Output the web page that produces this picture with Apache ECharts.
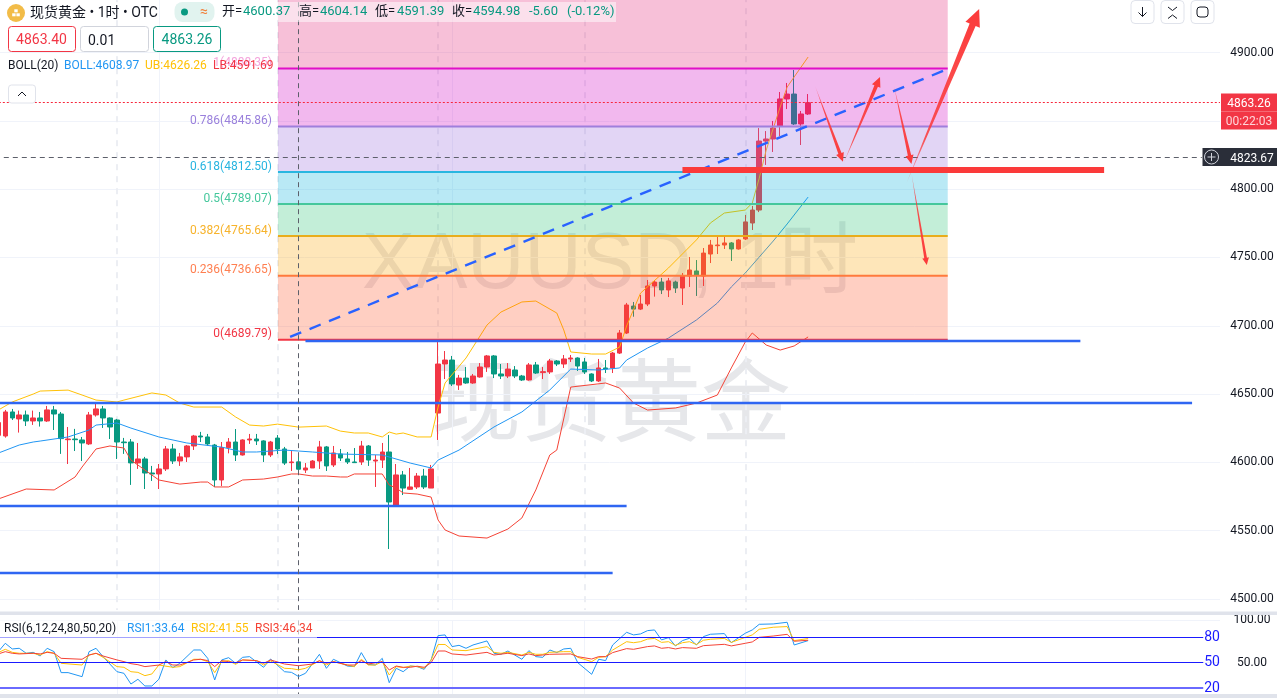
<!DOCTYPE html>
<html>
<head>
<meta charset="utf-8">
<title>XAUUSD 1H</title>
<script src="https://cdn.jsdelivr.net/npm/echarts@6/dist/echarts.min.js"></script>
<style>
    html, body { margin: 0; padding: 0; background: #fff; }
    #main { width: 1277px; height: 698px; }
</style>
</head>
<body>
<div id="main"></div>
<script>
// hourly candles: [open, close, low, high], index = bar number
var candles = [
    [4619.8,4629.1,4618.3,4631],[4619.3,4636.9,4618.1,4638.4],[4636.9,4632.5,4631,4639.1],[4631.8,4634.7,4621.8,4637.9],
    [4634.7,4630.3,4626.6,4637.9],[4630.3,4632.5,4627.4,4637.9],[4632.5,4630.3,4626.2,4636.9],[4630.3,4638.4,4629.6,4641.3],
    [4638.4,4635.4,4623.7,4641.3],[4635.4,4617.4,4606.2,4636.9],[4616.6,4617.1,4598.8,4625.9],[4617.1,4616.6,4608.3,4624.5],
    [4616.4,4614.2,4601,4618.6],[4613.5,4634.7,4612.7,4636.9],[4634.7,4639.1,4633.5,4642.8],[4639.1,4632.5,4625.2,4641.3],
    [4632.5,4625.9,4617.1,4632.9],[4631,4614.9,4602.5,4631.8],[4614.9,4614.4,4606.2,4617.9],[4614.9,4599.6,4583.5,4617.1],
    [4599.6,4602.5,4595.2,4614.2],[4602.5,4592.2,4580.5,4604],[4592.2,4591.5,4586.4,4597.4],[4591.5,4595.2,4580.5,4598.8],
    [4595.2,4609.8,4593.7,4612],[4609.8,4601,4598.8,4613.5],[4601,4604,4597.4,4606.9],[4604,4612,4600.3,4612.7],
    [4612,4619.3,4609.1,4620.1],[4619.3,4618.6,4614.9,4622.3],[4618.6,4613.5,4612,4620.8],[4612.7,4587.1,4582,4613.5],
    [4587.1,4610.8,4582.7,4614.9],[4610.8,4614.9,4606.6,4617.8],[4614.9,4605.4,4601,4624.4],[4605.4,4616.4,4605,4616.9],
    [4616.4,4617.1,4613.5,4620.8],[4617.1,4615.7,4612.7,4620.8],[4615.7,4605.4,4600.3,4616.2],[4605.4,4614.9,4603.9,4615.7],
    [4617.8,4609.8,4606.1,4620],[4609.8,4599.5,4598.1,4611.3],[4599.8,4600.3,4593.7,4608.3],[4600.37,4594.98,4591.39,4604.14],
    [4594.4,4595.9,4592.2,4599.5],[4595.9,4601,4595.9,4601.7],[4601,4611.3,4595.2,4615.7],[4611.3,4597.4,4593.7,4612],
    [4598.1,4606.9,4596.6,4612],[4606.1,4603.2,4601,4609.8],[4602.5,4600.3,4598.8,4607.6],[4600.3,4599.8,4599.7,4610.5],
    [4600.3,4612,4598.1,4615.7],[4612,4601.7,4597.4,4612.7],[4601,4601.7,4582,4605.4],[4601.7,4607.6,4595.9,4614.2],
    [4607.6,4571,4536.6,4620],[4568.1,4590.8,4568.1,4598.8],[4590.8,4581.2,4576.1,4593.7],[4580.3,4582,4579.8,4595.9],
    [4582,4590,4580.5,4592.2],[4590,4582,4580.5,4595.2],[4581.2,4595.2,4581.2,4598.1],[4636.1,4672,4616.4,4688.3],
    [4672,4674.9,4661,4681.5],[4674.9,4657.4,4655.9,4677.9],[4656.6,4661.7,4653,4664],[4661.7,4658.1,4657.5,4669.8],
    [4658.1,4663.2,4657.5,4664.7],[4662.5,4669.8,4662,4672.7],[4669.8,4677.9,4666.2,4678.6],[4677.9,4664.7,4661.7,4678.6],
    [4664.7,4663.2,4661,4672],[4663.2,4668.3,4661.7,4672.7],[4667.6,4663.2,4661.7,4670.5],[4663.2,4660.3,4659.6,4664],
    [4660.3,4671.3,4659.8,4672.7],[4671.3,4665.4,4664.7,4673.5],[4665.7,4666.4,4661,4669.8],[4666.2,4674.2,4664.7,4675.7],
    [4674.2,4672,4670.5,4674.9],[4672,4675.7,4669.1,4678.6],[4675.7,4676.4,4673.5,4678.6],[4676.4,4670.5,4666.9,4676.9],
    [4673.5,4666.2,4664.7,4676.4],[4664.7,4659.6,4658.8,4665.2],[4659.6,4669.1,4658.8,4675.7],[4669.1,4668.3,4665.4,4674.9],
    [4669.1,4680,4665.4,4680.8],[4680,4694.7,4679.3,4696.9],[4694.7,4715.2,4694,4716.7],[4714.4,4712.2,4706.6,4717.4],
    [4712.2,4715.9,4711.5,4722.5],[4715.9,4729.1,4714.4,4733.5],[4729.1,4732,4721.3,4733],[4732,4726.2,4723.2,4735],
    [4726.2,4732.8,4721,4735],[4732,4727.6,4724,4733],[4727.6,4736.4,4715.2,4738.6],[4736.4,4740.8,4728.4,4750.3],
    [4740.1,4737.1,4721.8,4748.1],[4736.4,4753.2,4729.1,4756.9],[4752.5,4759.1,4745.9,4762.8],[4758.6,4759.1,4752.5,4765],
    [4759.1,4760.6,4756.2,4765],[4760.6,4756.2,4747.4,4761.3],[4756.2,4762.8,4755.7,4763.5],[4763.5,4776,4762.8,4781.1],
    [4775.2,4784.7,4770.1,4787.7],[4784.7,4835.2,4783.2,4844.7],[4835.2,4836.7,4817.7,4842.5],[4836.7,4844.7,4827.2,4849.9],
    [4846.2,4866,4838.9,4871.1],[4866,4869.6,4858.6,4877.7],[4869.6,4847.7,4847,4887.2],[4847.7,4855,4832.3,4857.2],
    [4855,4863.26,4854.3,4869.6]
];

// Bollinger bands: [bar, value]
var bollUpper = [[0,4638.3],[2,4644.2],[5,4650],[6,4652.2],[10,4652.9],[12,4649.3],[14,4645.6],[17,4644.2],[18,4645.6],[22,4650.8],
    [24,4649.3],[26,4643.4],[28,4640.5],[32,4640.5],[34,4633.2],[36,4627.3],[38,4626.6],[40,4628],[43,4625.8],[47,4626.6],[49,4622.9],
    [51,4621.5],[53,4621.5],[55,4618.6],[56,4622.2],[57,4620.7],[58,4621.5],[60,4618.6],[62,4618.6],[63,4640.5],[64,4658.1],[67,4676.4],
    [70,4700.5],[72,4710],[75,4717.4],[77,4718.1],[80,4709.3],[81,4696.9],[82,4680.8],[85,4679.3],[87,4679.3],[89,4684.4],[90,4699.8],
    [92,4723.9],[96,4742.3],[100,4762.8],[102,4775.2],[104,4782.5],[107,4784.7],[108,4789.8],[109,4808.1],[110,4828.6],[112,4860.1],
    [113,4874.7],[114,4882.1],[116,4896.7]];
var bollMid = [[0,4606.8],[3,4612.7],[5,4614.9],[6,4615.6],[10,4618.6],[13,4623.7],[14,4627.3],[17,4628.8],[19,4625.1],[23,4618.6],
    [27,4614.2],[32,4611.2],[35,4607.6],[37,4607.6],[41,4609],[43,4608.3],[45,4607.6],[49,4606.1],[55,4605.4],[59,4599.5],[62,4595.9],
    [63,4601.7],[66,4609],[71,4625.9],[75,4636.9],[79,4653],[82,4668.3],[86,4667.6],[89,4669.1],[90,4674.9],[93,4683.7],[96,4691],
    [100,4704.2],[103,4716.6],[105,4728.4],[107,4738.6],[109,4750.3],[111,4762],[113,4774.5],[116,4794.2]];
var bollLower = [[0,4573.2],[4,4580.5],[8,4579.8],[11,4589.3],[12,4596.6],[14,4609.8],[16,4612],[18,4610.5],[19,4601.7],[21,4594.4],
    [23,4587.1],[26,4584.1],[29,4585.6],[30,4585.6],[31,4582],[33,4582],[35,4587.1],[38,4587.8],[40,4589.3],[42,4591.5],[43,4591.5],
    [45,4590],[47,4590],[49,4589.3],[50,4589.3],[51,4591.5],[55,4591.5],[56,4583.4],[57,4581.2],[58,4577.6],[60,4576.8],[62,4574.6],
    [63,4557.8],[64,4550.5],[66,4546.1],[70,4544.6],[73,4551.2],[75,4559.3],[77,4579.8],[79,4605.4],[80,4609],[82,4655.1],[87,4658.1],
    [89,4654.4],[91,4643.4],[93,4638.3],[97,4639.8],[100,4643.4],[103,4649.3],[105,4669.1],[107,4688.1],[108,4694.7],[110,4685.9],
    [112,4682.2],[114,4685.2],[116,4691.8]];

// RSI panel: [bar, value]
var rsi1 = [[0,63],[1,72.9],[2,66.2],[3,67],[4,61.1],[5,62.2],[6,57.9],[7,67],[8,63],[9,38.2],[10,38.2],[12,33.4],[13,63],[14,67],[15,57.1],
    [17,39.3],[18,37.4],[19,24.7],[20,30.3],[21,22.4],[22,22.4],[23,30.3],[24,53.2],[25,44.1],[26,49.2],[28,65],[29,65],[30,55.1],[31,29.5],
    [32,53.2],[33,55.9],[34,49.2],[35,56.3],[36,57.1],[38,44.5],[39,54.3],[41,39.3],[42,38.5],[43,33.64],[44,37.4],[46,59.9],[47,43.3],[48,54],
    [50,46],[51,45.3],[52,61.9],[53,48],[54,47.2],[55,55.1],[56,26.3],[57,43.3],[58,39.3],[59,46],[60,45.3],[61,42.1],[62,53.2],[63,82],[64,82.8],
    [65,69],[66,70.5],[67,67],[68,70.9],[70,75.7],[71,61.1],[72,59.9],[73,63.8],[75,54],[76,64.2],[77,57.1],[78,56.3],[79,65],[80,61.9],[81,66.2],
    [82,67],[83,50],[85,36.2],[86,54],[87,52.4],[88,70.9],[90,85.9],[91,82.8],[92,84],[93,87.9],[94,88.7],[95,76.9],[96,79.6],[97,69.8],[98,76.1],
    [99,78.8],[100,70.9],[101,80.8],[102,83.6],[104,84.4],[105,73.7],[107,84.8],[108,88.7],[109,95.4],[111,95.8],[113,97.8],[114,70.9],[116,76.1]];
var rsi2 = [[0,61.9],[1,65.8],[2,62.2],[3,61.1],[5,61.1],[6,59],[7,63],[8,61.1],[9,49.2],[12,47.2],[13,59],[14,61.1],[15,56.3],[17,45.3],[18,44.5],
    [19,39.3],[20,38.5],[21,34.6],[22,36.6],[23,47.2],[25,44.5],[26,45.3],[28,54],[29,54],[30,51.2],[31,38.2],[32,51.2],[33,52.4],[34,48],[35,53.2],
    [37,52.4],[38,47.2],[39,52],[41,43.3],[42,42.9],[43,41.55],[44,43.3],[46,52],[47,47.2],[48,51.2],[50,47.2],[51,45.3],[52,54],[53,47.2],[54,47.2],
    [55,51.2],[56,35.4],[57,45.3],[58,44.1],[59,46],[60,45.3],[61,43.3],[62,53.2],[63,71.5],[64,71.5],[65,65],[67,64.2],[70,69],[71,62.2],[72,61.1],
    [73,62.2],[75,59],[76,62.2],[77,59.9],[78,59.9],[79,62.2],[81,63],[82,63],[83,56.3],[85,51.2],[86,56.3],[87,57.1],[88,64.9],[90,74.8],[91,73.6],
    [92,74.8],[93,77.9],[94,78.7],[95,74],[96,74.8],[97,70.5],[98,73.6],[99,74.8],[100,71.5],[101,76.5],[102,77.7],[104,78.7],[105,74],[107,79.9],
    [108,82.8],[109,89.5],[111,91.9],[113,92.7],[114,76.1],[116,78.5]];
var rsi3 = [[0,60.3],[1,63],[2,61.1],[3,60.3],[5,61.1],[6,60.3],[7,62.2],[8,61.1],[9,55.1],[12,54],[13,59],[14,61.1],[15,57.9],[17,53.2],[18,51.2],
    [19,48.8],[20,47.6],[21,45.3],[23,47.2],[24,51.2],[25,47.2],[26,47.2],[28,53.2],[29,54],[30,52.4],[31,45.3],[32,52.4],[33,51.2],[34,50],[35,53.2],
    [37,52.4],[38,49.2],[39,53.2],[41,48.4],[43,46.34],[45,48.4],[46,52.4],[47,49.2],[48,51.2],[50,47.2],[51,47.2],[52,52.4],[53,48.4],[55,51.2],
    [56,41.3],[57,46],[58,44.5],[59,44.5],[60,45.8],[61,44.5],[62,50],[63,63.8],[64,63.8],[65,60.3],[67,59],[70,62.2],[71,59],[73,61.1],[75,58.3],
    [76,60.3],[77,58.3],[78,59],[79,59.9],[82,60.3],[83,57.1],[85,54.3],[86,57.1],[87,57.1],[88,61.9],[90,66.6],[91,65.8],[93,69],[94,69.8],[95,67],
    [96,67.8],[97,66.2],[98,67.8],[100,67],[101,70.1],[104,71.7],[105,69.8],[107,72.9],[108,74.5],[109,80],[111,81.5],[113,83.5],[114,75.3],[116,76.5]];
var rsiLevels = [80, 50, 20];

// fibonacci retracement
var fibRatios = ['0', '0.236', '0.382', '0.5', '0.618', '0.786', '1'];
var fibPrices = [4689.79, 4736.65, 4765.64, 4789.07, 4812.50, 4845.86, 4888.35];
var fibStartBar = 40.06;
var fibEndBar = 136;

// drawn lines: [bar0, price0, bar1, price1]
var supportLines = [[44, 4688.8, 155, 4688.8], [-0.5, 4643.4, 171, 4643.4], [-0.5, 4568.4, 90, 4568.4], [-0.5, 4519, 88, 4519]];
var trendLine = [41.8, 4691.8, 136, 4887.9];
var thickLine = [98, 4814, 158.4, 4814];
var arrows = [
    [117, 4875.5, 121, 4820, 3.4],
    [121.1, 4819.1, 126.3, 4882.1, 3.8],
    [128.3, 4875.5, 130.8, 4818.4, 3.4],
    [130.8, 4811.8, 133, 4744.4, 2.8],
    [130.1, 4804.5, 140.5, 4931.8, 6.5]
];

var gridBars = [[17, 1], [23, 0], [40, 1], [63, 1], [65, 0], [84, 1], [107, 1]]; // bar, dashed?
var crossBar = 43;
var crossPrice = 4823.67;
var lastPrice = 4863.26;

var priceMin = 4450, priceMax = 4950;
var visibleLow = 4492;

var bandColors = ['rgba(255,84,37,.28)', 'rgba(251,166,5,.28)', 'rgba(41,194,116,.28)', 'rgba(5,176,219,.28)', 'rgba(151,105,219,.28)', 'rgba(208,0,194,.28)', 'rgba(226,30,115,.28)'];
var lineColors = ['#f23645', '#ff7a3c', '#e8ad1c', '#45c79c', '#29b6e0', '#9f7fdc', '#e010c8'];
var labelColors = ['#f23645', '#ff7f50', '#f7b32b', '#45c79c', '#26b4e0', '#9a80dc', '#f4a6dd'];

var UP = '#f23645', DOWN = '#089981';
var BLUE = '#2196f3', YELLOW = '#ffc107', RED = '#f44336';
var FONT = 'Roboto, "Noto Sans CJK SC", sans-serif';
var X_MIN = -0.5, X_MAX = 175;

var myChart = echarts.init(document.getElementById('main'));

function lineSeries(name, data, color, xIdx) {
    return {
        name: name, type: 'line', data: data, xAxisIndex: xIdx, yAxisIndex: xIdx,
        showSymbol: false, symbol: 'none', smooth: false, z: 3, silent: true,
        lineStyle: {color: color, width: 1}
    };
}

function segment(p, style) {
    return [{coord: [p[0], p[1]], lineStyle: style}, {coord: [p[2], p[3]]}];
}

function vline(bar, top, bottom, style) {
    return [{coord: [bar, top], lineStyle: style}, {coord: [bar, bottom]}];
}

// marker z is separate from the series z
function markLineOf(data, z) {
    return {symbol: 'none', silent: true, animation: false, z: z, label: {show: false}, data: data};
}

function renderFib(params, api) {
    var k = params.dataIndex;
    var p0 = api.coord([fibStartBar, api.value(1)]);
    var p1 = api.coord([fibEndBar, api.value(1)]);
    var topPrice = k < fibPrices.length - 1 ? fibPrices[k + 1] : priceMax;
    var top = api.coord([fibStartBar, topPrice]);
    return {
        type: 'group',
        children: [
            {type: 'rect', shape: {x: p0[0], y: top[1], width: p1[0] - p0[0], height: p0[1] - top[1]}, style: {fill: bandColors[k]}},
            {type: 'line', shape: {x1: p0[0], y1: p0[1], x2: p1[0], y2: p1[1]}, style: {stroke: lineColors[k], lineWidth: 2}},
            {type: 'text', style: {
                text: fibRatios[k] + '(' + fibPrices[k].toFixed(2) + ')', x: p0[0] - 6, y: p0[1] - 5.5,
                align: 'right', verticalAlign: 'middle', fill: labelColors[k], font: '12px ' + FONT
            }}
        ]
    };
}

function renderArrow(params, api) {
    var a = api.coord([api.value(0), api.value(1)]);
    var b = api.coord([api.value(2), api.value(3)]);
    var w = api.value(4);
    var dx = b[0] - a[0], dy = b[1] - a[1];
    var len = Math.sqrt(dx * dx + dy * dy);
    var ux = dx / len, uy = dy / len, nx = -uy, ny = ux;
    var head = w * 2.6;
    var hx = b[0] - ux * head, hy = b[1] - uy * head;
    var pts = [
        [a[0], a[1]],
        [hx + nx * w / 2, hy + ny * w / 2],
        [hx + nx * w * 1.2, hy + ny * w * 1.2],
        [b[0], b[1]],
        [hx - nx * w * 1.2, hy - ny * w * 1.2],
        [hx - nx * w / 2, hy - ny * w / 2]
    ];
    return {
        type: 'polygon', shape: {points: pts},
        style: {
            fill: new echarts.graphic.LinearGradient(a[0], a[1], b[0], b[1], [
                {offset: 0, color: 'rgba(251,58,58,0.25)'},
                {offset: 0.25, color: 'rgba(251,58,58,0.85)'},
                {offset: 1, color: '#fb3a3a'}
            ], true)
        }
    };
}

function txt(text, x, y, color, size, align) {
    return {type: 'text', z: 100, silent: true, style: {
        text: text, x: x, y: y, fill: color, align: align || 'left', verticalAlign: 'middle', font: (size || 12) + 'px ' + FONT
    }};
}

function box(x, y, w, h, r, stroke, fill, z) {
    return {type: 'rect', z: z || 95, silent: true, shape: {x: x, y: y, width: w, height: h, r: r},
        style: {stroke: stroke, fill: fill || '#fff', lineWidth: 1}};
}

function poly(points, stroke, width) {
    return {type: 'polyline', z: 100, silent: true, shape: {points: points}, style: {stroke: stroke, lineWidth: width || 1, fill: null}};
}

var INK = '#131722';
var graphics = [
    // watermark
    {type: 'text', z: 0, silent: true, style: {text: 'XAUUSD, 1时', x: 610, y: 266, fill: '#e6e7ea', align: 'center', verticalAlign: 'middle', font: '79px "Liberation Sans", "Noto Sans CJK SC"'}},
    {type: 'text', z: 0, silent: true, style: {text: '现货黄金', x: 611, y: 400, fill: '#e6e7ea', align: 'center', verticalAlign: 'middle', font: '90px "Noto Sans CJK SC"'}},
    // panel separators
    {type: 'rect', z: 90, silent: true, shape: {x: 0, y: 611.5, width: 1277, height: 3.5}, style: {fill: '#e0e3eb'}},
    {type: 'rect', z: 90, silent: true, shape: {x: 0, y: 694, width: 1277, height: 4}, style: {fill: '#e0e3eb'}},
    {type: 'rect', z: 50, silent: true, shape: {x: 0, y: 618, width: 317, height: 21}, style: {fill: 'rgba(255,255,255,0.6)'}},
    // header
    {type: 'circle', z: 100, silent: true, shape: {cx: 16, cy: 13, r: 9}, style: {fill: '#f2bc48'}},
    {type: 'rect', z: 101, silent: true, shape: {x: 14.3, y: 9.3, width: 3.4, height: 3}, style: {fill: '#fff'}},
    {type: 'rect', z: 101, silent: true, shape: {x: 12.2, y: 13.3, width: 3.4, height: 3}, style: {fill: '#fff'}},
    {type: 'rect', z: 101, silent: true, shape: {x: 16.4, y: 13.3, width: 3.4, height: 3}, style: {fill: '#fff'}},
    txt('现货黄金 • 1时 • OTC', 30, 13, INK, 14),
    {type: 'rect', z: 95, silent: true, shape: {x: 174.5, y: 2, width: 40, height: 20, r: 8}, style: {fill: '#e1f3ef'}},
    {type: 'circle', z: 100, silent: true, shape: {cx: 184.5, cy: 12, r: 3.5}, style: {fill: DOWN}},
    txt('≈', 204, 12, '#f0803c', 14, 'center'),
    {type: 'rect', z: 90, silent: true, shape: {x: 278, y: 2, width: 338, height: 20}, style: {fill: 'rgba(255,255,255,0.5)'}},
    txt('开=', 222, 12, INK, 13), txt('4600.37', 243, 12, DOWN, 13),
    txt('高=', 299, 12, INK, 13), txt('4604.14', 320, 12, DOWN, 13),
    txt('低=', 375, 12, INK, 13), txt('4591.39', 397, 12, DOWN, 13),
    txt('收=', 452, 12, INK, 13), txt('4594.98', 473, 12, DOWN, 13),
    txt('-5.60', 529, 12, DOWN, 13), txt('(-0.12%)', 567, 12, DOWN, 13),
    // order boxes
    box(8.5, 26.5, 67, 25, 3, UP), txt('4863.40', 41.5, 40, UP, 14, 'center'),
    box(80.5, 26.5, 68, 25, 3, '#d1d4dc'), txt('0.01', 88, 41, INK, 14),
    box(153.5, 26.5, 67, 25, 3, DOWN), txt('4863.26', 187, 40, DOWN, 14, 'center'),
    // indicator legends
    txt('BOLL(20)', 8, 65.5, INK), txt('BOLL:4608.97', 64, 65.5, BLUE), txt('UB:4626.26', 145, 65.5, YELLOW), txt('LB:4591.69', 213, 65.5, UP),
    box(8.5, 85, 27, 18, 3, '#e0e3eb'), poly([[18, 96], [22, 92], [26, 96]], INK),
    txt('RSI(6,12,24,80,50,20)', 4, 628.5, INK), txt('RSI1:33.64', 127, 628.5, BLUE), txt('RSI2:41.55', 191, 628.5, YELLOW), txt('RSI3:46.34', 255, 628.5, RED),
    // toolbar
    box(1131, 0.5, 23, 23, 4, '#e0e3eb'), poly([[1142.5, 7], [1142.5, 16.5]], INK), poly([[1138.5, 12.5], [1142.5, 16.5], [1146.5, 12.5]], INK),
    box(1161, 0.5, 23, 23, 4, '#e0e3eb'), poly([[1168, 7], [1172.5, 10.5], [1177, 7]], INK), poly([[1168, 18.5], [1172.5, 15], [1177, 18.5]], INK),
    box(1191, 0.5, 23, 23, 4, '#e0e3eb'), {type: 'rect', z: 100, silent: true, shape: {x: 1197, y: 7, width: 11, height: 10, r: 3}, style: {stroke: INK, fill: null, lineWidth: 1}},
    // price tags
    {type: 'rect', z: 95, silent: true, shape: {x: 1221, y: 93.5, width: 56, height: 36}, style: {fill: UP}},
    {type: 'rect', z: 96, silent: true, shape: {x: 1221, y: 111, width: 56, height: 1}, style: {fill: 'rgba(255,255,255,0.25)'}},
    txt('4863.26', 1249, 103.5, '#fff', 12, 'center'), txt('00:22:03', 1249, 121.5, '#ffd5d9', 12, 'center'),
    {type: 'rect', z: 95, silent: true, shape: {x: 1202.5, y: 148, width: 75, height: 18}, style: {fill: '#2a2e39'}},
    {type: 'circle', z: 100, silent: true, shape: {cx: 1211.5, cy: 157, r: 7}, style: {stroke: '#d1d4dc', fill: null, lineWidth: 1}},
    poly([[1207.5, 157], [1215.5, 157]], '#d1d4dc'), poly([[1211.5, 153], [1211.5, 161]], '#d1d4dc'),
    txt('4823.67', 1252, 158.5, '#fff', 12, 'center')
];

var faint = {color: '#f0f3fa', width: 1, type: 'solid'};
var faintDash = {color: '#eceef3', width: 2, type: [6, 6]};
var crossStyle = {color: '#5d606b', width: 1, type: [5, 4]};

var mainVerticals = gridBars.map(function (g) { return vline(g[0], priceMax, visibleLow, g[1] ? faintDash : faint); });

var rsiVerticals = gridBars.map(function (g) { return vline(g[0], 100, 0, faint); });
rsiVerticals.push(vline(crossBar, 100, 0, crossStyle));

var rsiLevelLines = rsiLevels.map(function (lv, n) {
    var style = n === 2 ? {color: '#6a6aff', width: 2, type: 'solid'} : {color: '#1a1aff', width: 1.2, type: 'solid'};
    return [
        {coord: [X_MIN, lv], lineStyle: style, label: {show: true, position: 'end', distance: 1, formatter: String(lv), color: '#1a1aff', fontSize: 14, fontFamily: 'Roboto', padding: [5, 0, 0, 0]}},
        {coord: [172.6, lv]}
    ];
});

var priceSegments = supportLines.map(function (s) { return segment(s, {color: '#2f66f2', width: 2.4, type: 'solid'}); });
priceSegments.push(segment(trendLine, {color: '#2962ff', width: 2.4, type: [12, 9]}));
priceSegments.push(segment([X_MIN, lastPrice, X_MAX, lastPrice], {color: '#f7253a', width: 1, type: [2, 2]}));
priceSegments.push(segment([X_MIN, crossPrice, 172.4, crossPrice], crossStyle));
priceSegments.push(vline(crossBar, priceMax, visibleLow, crossStyle));
priceSegments.push(segment(thickLine, {color: '#fb3a3a', width: 6, type: 'solid'}));

var option = {
    animation: false,
    backgroundColor: '#fff',
    graphic: {elements: graphics},
    grid: [
        {left: -5.2, width: 1225.2, top: -15.8, height: 683.1, outerBoundsMode: 'none'},
        {left: -5.2, width: 1225.2, top: 620.4, height: 84.5, outerBoundsMode: 'none'}
    ],
    xAxis: [
        {type: 'value', gridIndex: 0, min: X_MIN, max: X_MAX, show: false, splitLine: {show: false}},
        {type: 'value', gridIndex: 1, min: X_MIN, max: X_MAX, show: false, splitLine: {show: false}}
    ],
    yAxis: [
        {
            type: 'value', gridIndex: 0, position: 'right', min: priceMin, max: priceMax, interval: 50,
            axisLine: {show: true, lineStyle: {color: '#e0e3eb'}},
            axisTick: {show: false},
            axisLabel: {
                align: 'center', margin: 32, color: INK, fontFamily: 'Roboto', fontSize: 12, padding: [5, 0, 0, 0],
                showMinLabel: false, showMaxLabel: false,
                formatter: function (v) { return v.toFixed(2); }
            },
            splitLine: {show: true, showMinLine: false, showMaxLine: false, lineStyle: {color: '#f0f3fa'}}
        },
        {
            type: 'value', gridIndex: 1, position: 'right', min: 0, max: 100, interval: 50,
            axisLine: {show: true, lineStyle: {color: '#e0e3eb'}},
            axisTick: {show: false},
            axisLabel: {
                align: 'center', margin: 32, color: INK, fontFamily: 'Roboto', fontSize: 12, padding: [5, 0, 0, 0],
                showMinLabel: false,
                formatter: function (v) { return v.toFixed(2); }
            },
            splitLine: {show: true, showMinLine: false, lineStyle: {color: '#f0f3fa'}}
        }
    ],
    series: [
        {
            // vertical grid lines sit behind the candles
            name: 'verticals', type: 'line', data: [], z: 1, silent: true, markLine: markLineOf(mainVerticals, 1)
        },
        {
            name: 'XAUUSD', type: 'candlestick', z: 2, silent: true, barWidth: 5,
            data: candles.map(function (c, i) { return [i, c[0], c[1], c[2], c[3]]; }),
            itemStyle: {color: UP, color0: DOWN, borderColor: UP, borderColor0: DOWN, borderWidth: 1}
        },
        lineSeries('BOLL', bollMid, BLUE, 0),
        lineSeries('UB', bollUpper, YELLOW, 0),
        lineSeries('LB', bollLower, RED, 0),
        {
            name: 'fib', type: 'custom', z: 5, silent: true, clip: false,
            renderItem: renderFib,
            encode: {x: 0, y: 1},
            data: fibPrices.map(function (p) { return [fibStartBar, p]; })
        },
        {
            name: 'drawings', type: 'line', data: [], z: 6, silent: true, markLine: markLineOf(priceSegments, 6)
        },
        {
            name: 'arrows', type: 'custom', z: 7, silent: true, clip: false,
            renderItem: renderArrow,
            encode: {x: [0, 2], y: [1, 3]},
            data: arrows
        },
        {
            name: 'rsi grid', type: 'line', data: [], xAxisIndex: 1, yAxisIndex: 1, z: 1, silent: true, markLine: markLineOf(rsiVerticals, 1)
        },
        lineSeries('RSI1', rsi1, BLUE, 1),
        lineSeries('RSI2', rsi2, YELLOW, 1),
        lineSeries('RSI3', rsi3, RED, 1),
        {
            name: 'rsi levels', type: 'line', data: [], xAxisIndex: 1, yAxisIndex: 1, z: 4, silent: true, markLine: markLineOf(rsiLevelLines, 4)
        }
    ]
};
myChart.setOption(option);
</script>
</body>
</html>
